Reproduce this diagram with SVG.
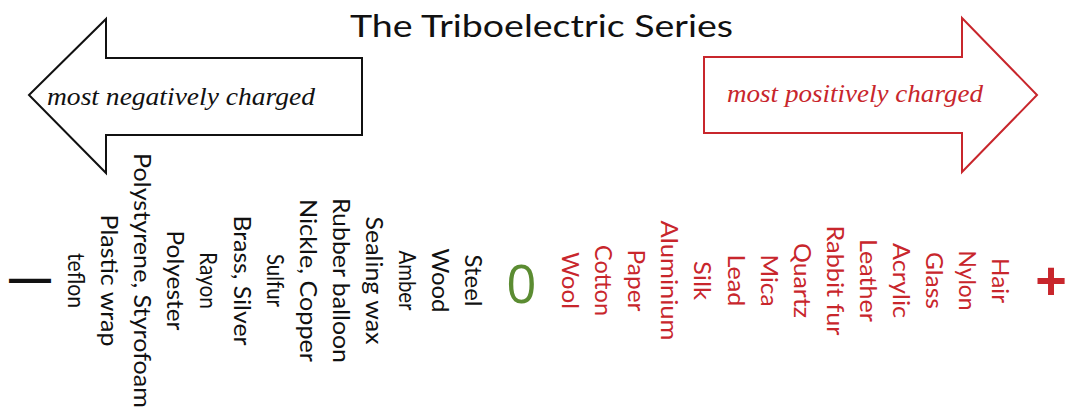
<svg xmlns="http://www.w3.org/2000/svg" width="1066" height="408" viewBox="0 0 1066 408">
  <style>
    .title { font-family: Lato, "Open Sans", "Liberation Sans", sans-serif; font-size: 30px; fill: #111; }
    .tag { font-family: "Liberation Serif", "Times New Roman", serif; font-style: italic; font-size: 25px; }
    .item { font-family: Lato, "Open Sans", "Liberation Sans", sans-serif; font-size: 24px; text-anchor: middle; }
    .neg { fill: #111; }
    .pos { fill: #c8262c; }
    .arrow-neg { fill: #fff; stroke: #111; stroke-width: 2; stroke-linejoin: miter; }
    .arrow-pos { fill: #fff; stroke: #c8262c; stroke-width: 2; stroke-linejoin: miter; }
  </style>
  <rect width="1066" height="408" fill="#fff"/>

  <text class="title" x="350" y="37" textLength="383" lengthAdjust="spacingAndGlyphs">The Triboelectric Series</text>

  <!-- direction arrows -->
  <g id="arrow-negative">
    <polygon class="arrow-neg" points="29,95 106,19 106,58 362,58 362,135 106,135 106,173"/>
    <text class="tag neg" x="47" y="105" textLength="268" lengthAdjust="spacingAndGlyphs">most negatively charged</text>
  </g>
  <g id="arrow-positive">
    <polygon class="arrow-pos" points="704,57 962,57 962,18 1037,95 962,172 962,133 704,133"/>
    <text class="tag pos" x="727" y="102" textLength="256" lengthAdjust="spacingAndGlyphs">most positively charged</text>
  </g>

  <!-- end markers -->
  <g id="sign-minus">
    <text x="9" y="292" font-family="Liberation Sans, Arial, sans-serif" font-weight="bold" font-size="42" fill="#111" textLength="42">—</text>
  </g>
  <g id="sign-zero">
    <text x="521.5" y="303" font-family="Open Sans, Liberation Sans, sans-serif" font-size="53" fill="#5b8c32" text-anchor="middle">0</text>
  </g>
  <g id="sign-plus">
    <text x="1051" y="299" font-family="Liberation Sans, Arial, sans-serif" font-weight="bold" font-size="54" fill="#c8262c" text-anchor="middle">+</text>
  </g>

  <!-- negative side of the series -->
  <g id="series-negative">
    <text class="item neg" transform="translate(68,280.5) rotate(90)" textLength="55" lengthAdjust="spacingAndGlyphs">teflon</text>
    <text class="item neg" transform="translate(101.1,280.5) rotate(90)" textLength="132" lengthAdjust="spacingAndGlyphs">Plastic wrap</text>
    <text class="item neg" transform="translate(134.2,280.5) rotate(90)" textLength="255" lengthAdjust="spacingAndGlyphs">Polystyrene, Styrofoam</text>
    <text class="item neg" transform="translate(167.3,280.5) rotate(90)" textLength="100" lengthAdjust="spacingAndGlyphs">Polyester</text>
    <text class="item neg" transform="translate(200.4,280.5) rotate(90)" textLength="57" lengthAdjust="spacingAndGlyphs">Rayon</text>
    <text class="item neg" transform="translate(233.5,280.5) rotate(90)" textLength="130" lengthAdjust="spacingAndGlyphs">Brass, Silver</text>
    <text class="item neg" transform="translate(266.6,280.5) rotate(90)" textLength="53" lengthAdjust="spacingAndGlyphs">Sulfur</text>
    <text class="item neg" transform="translate(299.7,280.5) rotate(90)" textLength="163" lengthAdjust="spacingAndGlyphs">Nickle, Copper</text>
    <text class="item neg" transform="translate(332.8,280.5) rotate(90)" textLength="165" lengthAdjust="spacingAndGlyphs">Rubber balloon</text>
    <text class="item neg" transform="translate(365.9,280.5) rotate(90)" textLength="128" lengthAdjust="spacingAndGlyphs">Sealing wax</text>
    <text class="item neg" transform="translate(399,280.5) rotate(90)" textLength="60" lengthAdjust="spacingAndGlyphs">Amber</text>
    <text class="item neg" transform="translate(432.1,280.5) rotate(90)" textLength="64" lengthAdjust="spacingAndGlyphs">Wood</text>
    <text class="item neg" transform="translate(465.2,280.5) rotate(90)" textLength="52" lengthAdjust="spacingAndGlyphs">Steel</text>
  </g>

  <!-- positive side of the series -->
  <g id="series-positive">
    <text class="item pos" transform="translate(562,280.5) rotate(90)" textLength="57" lengthAdjust="spacingAndGlyphs">Wool</text>
    <text class="item pos" transform="translate(595.1,280.5) rotate(90)" textLength="71" lengthAdjust="spacingAndGlyphs">Cotton</text>
    <text class="item pos" transform="translate(628.2,280.5) rotate(90)" textLength="62" lengthAdjust="spacingAndGlyphs">Paper</text>
    <text class="item pos" transform="translate(661.3,280.5) rotate(90)" textLength="120" lengthAdjust="spacingAndGlyphs">Aluminium</text>
    <text class="item pos" transform="translate(694.4,280.5) rotate(90)" textLength="39" lengthAdjust="spacingAndGlyphs">Silk</text>
    <text class="item pos" transform="translate(727.5,280.5) rotate(90)" textLength="52" lengthAdjust="spacingAndGlyphs">Lead</text>
    <text class="item pos" transform="translate(760.6,280.5) rotate(90)" textLength="52" lengthAdjust="spacingAndGlyphs">Mica</text>
    <text class="item pos" transform="translate(793.7,280.5) rotate(90)" textLength="75" lengthAdjust="spacingAndGlyphs">Quartz</text>
    <text class="item pos" transform="translate(826.8,280.5) rotate(90)" textLength="110" lengthAdjust="spacingAndGlyphs">Rabbit fur</text>
    <text class="item pos" transform="translate(859.9,280.5) rotate(90)" textLength="83" lengthAdjust="spacingAndGlyphs">Leather</text>
    <text class="item pos" transform="translate(893,280.5) rotate(90)" textLength="75" lengthAdjust="spacingAndGlyphs">Acrylic</text>
    <text class="item pos" transform="translate(926.1,280.5) rotate(90)" textLength="57" lengthAdjust="spacingAndGlyphs">Glass</text>
    <text class="item pos" transform="translate(959.2,280.5) rotate(90)" textLength="60" lengthAdjust="spacingAndGlyphs">Nylon</text>
    <text class="item pos" transform="translate(992.3,280.5) rotate(90)" textLength="45" lengthAdjust="spacingAndGlyphs">Hair</text>
  </g>
</svg>
